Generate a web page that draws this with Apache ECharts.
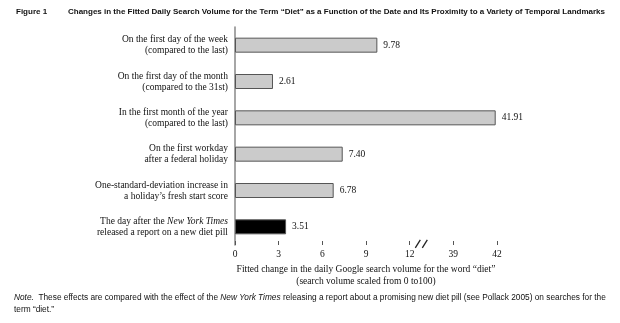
<!DOCTYPE html>
<html>
<head>
<meta charset="utf-8">
<script src="https://cdn.jsdelivr.net/npm/echarts@6/dist/echarts.min.js"></script>
<style>
  html, body { margin: 0; padding: 0; background: #fff; }
  #chart { width: 620px; height: 323px; }
</style>
</head>
<body>
<div id="chart"></div>
<script>
// categories top to bottom
const categories = [
    'On the first day of the week\n(compared to the last)',
    'On the first day of the month\n(compared to the 31st)',
    'In the first month of the year\n(compared to the last)',
    'On the first workday\nafter a federal holiday',
    'One-standard-deviation increase in\na holiday\u2019s fresh start score',
    'The day after the New York Times\nreleased a report on a new diet pill'
];
const values = [9.78, 2.61, 41.91, 7.40, 6.78, 3.51];
const barColors = ['#cbcbcb', '#cbcbcb', '#cbcbcb', '#cbcbcb', '#cbcbcb', '#000000'];
const tickLabels = [0, 3, 6, 9, 12, 39, 42];

// broken axis: 39 sits one tick step after 12, so values above the break shift down by 24
const breakLow = 12;
const breakShift = 24;
const toAxis = v => (v > breakLow + 1.5 ? v - breakShift : v);
const fromAxis = v => (v > breakLow ? v + breakShift : v);

const serif = '"Liberation Serif", "Times New Roman", serif';
const narrow = '"Liberation Sans Narrow", "Arial Narrow", "Liberation Sans", sans-serif';

const chart = echarts.init(document.getElementById('chart'));

const option = {
    backgroundColor: '#fff',
    animation: false,
    grid: { left: 235, right: 123, top: 27, bottom: 78 },
    xAxis: {
        type: 'value',
        min: 0,
        max: toAxis(tickLabels[tickLabels.length - 1]),
        interval: 3,
        axisLine: { lineStyle: { color: '#555', width: 1 } },
        axisTick: { show: true, inside: true, length: 4, lineStyle: { color: '#555' } },
        splitLine: { show: false },
        axisLabel: {
            margin: 4,
            fontFamily: serif,
            fontSize: 9.5,
            color: '#111',
            formatter: v => String(fromAxis(v))
        },
        name: 'Fitted change in the daily Google search volume for the word \u201cdiet\u201d\n(search volume scaled from 0 to100)',
        nameLocation: 'middle',
        nameGap: 11,
        nameTextStyle: {
            fontFamily: serif,
            fontSize: 9.5,
            color: '#111',
            lineHeight: 12,
            verticalAlign: 'top'
        }
    },
    yAxis: {
        type: 'category',
        inverse: true,
        data: categories,
        axisLine: { lineStyle: { color: '#888', width: 1.5 } },
        axisTick: { show: false },
        axisLabel: {
            margin: 7,
            fontFamily: serif,
            fontSize: 9.5,
            lineHeight: 11,
            color: '#111',
            align: 'right',
            formatter: v => v.replace('New York Times', '{i|New York Times}'),
            rich: {
                i: { fontFamily: serif, fontSize: 9.5, fontStyle: 'italic', color: '#111', lineHeight: 11 }
            }
        }
    },
    series: [{
        type: 'bar',
        barWidth: 15,
        data: values.map((v, i) => ({
            value: toAxis(v),
            itemStyle: { color: barColors[i] }
        })),
        itemStyle: { borderColor: '#555', borderWidth: 1 },
        label: {
            show: true,
            position: 'right',
            distance: 6,
            fontFamily: serif,
            fontSize: 9.5,
            color: '#111',
            formatter: p => values[p.dataIndex].toFixed(2)
        }
    }],
    graphic: [
        {
            type: 'text', left: 16, top: 8,
            style: { text: 'Figure 1', font: 'bold 8px ' + narrow, fill: '#111' }
        },
        {
            type: 'text', left: 68, top: 8,
            style: {
                text: 'Changes in the Fitted Daily Search Volume for the Term \u201cDiet\u201d as a Function of the Date and Its Proximity to a Variety of Temporal Landmarks',
                font: 'bold 8px ' + narrow, fill: '#111'
            }
        },
        {
            type: 'text', left: 14, top: 292,
            style: {
                text: '{i|Note.}  These effects are compared with the effect of the {i|New York Times} releasing a report about a promising new diet pill (see Pollack 2005) on searches for the\nterm \u201cdiet.\u201d',
                font: '8.3px ' + narrow, fill: '#111', lineHeight: 12,
                rich: { i: { font: 'italic 8.3px ' + narrow, fill: '#111' } }
            }
        }
    ]
};

chart.setOption(option);

// axis break mark "//" drawn where the scale jumps from 12 to 39
const bx = chart.convertToPixel({ xAxisIndex: 0 }, breakLow + 0.8);
const by = chart.convertToPixel({ yAxisIndex: 0 }, categories[categories.length - 1]) + 18;
chart.setOption({
    graphic: option.graphic.concat([{
        type: 'group',
        children: [
            { type: 'line', shape: { x1: bx - 6, y1: by + 3, x2: bx - 1, y2: by - 5 }, style: { stroke: '#222', lineWidth: 1.3 } },
            { type: 'line', shape: { x1: bx + 1, y1: by + 3, x2: bx + 6, y2: by - 5 }, style: { stroke: '#222', lineWidth: 1.3 } }
        ]
    }])
});
</script>
</body>
</html>
